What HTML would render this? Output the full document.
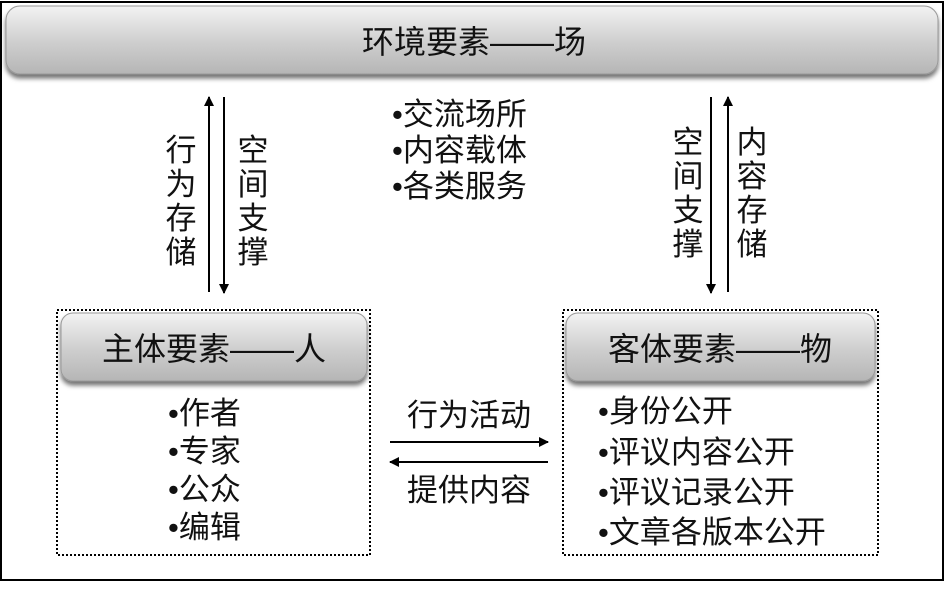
<!DOCTYPE html>
<html><head><meta charset="utf-8"><style>
html,body{margin:0;padding:0;background:#fff;}
svg text{font-family:"Liberation Sans","Noto Sans CJK SC",sans-serif;fill:#111;}
</style></head><body>
<svg width="945" height="584" viewBox="0 0 945 584" xmlns="http://www.w3.org/2000/svg">
<defs>
<linearGradient id="g" x1="0" y1="0" x2="0" y2="1">
<stop offset="0" stop-color="#f2f2f2"/><stop offset="0.5" stop-color="#d0d0d0"/><stop offset="1" stop-color="#b5b5b5"/>
</linearGradient>
<filter id="s" x="-5%" y="-20%" width="110%" height="150%"><feDropShadow dx="0" dy="4" stdDeviation="2.5" flood-color="#000" flood-opacity="0.55"/></filter>
<marker id="a" markerWidth="10" markerHeight="10" refX="9" refY="5" orient="auto" markerUnits="userSpaceOnUse"><path d="M0,0 L10,5 L0,10 z" fill="#000"/></marker>
</defs>
<rect x="1" y="2" width="942" height="578" fill="none" stroke="#000" stroke-width="2"/>
<rect x="6" y="6" width="932" height="68" rx="14" fill="url(#g)" stroke="#999" filter="url(#s)"/>
<text x="474" y="53" font-size="32" text-anchor="middle">环境要素——场</text>

<rect x="57" y="310" width="313" height="245" fill="none" stroke="#000" stroke-width="2" stroke-dasharray="2,2"/>
<rect x="61" y="313" width="306" height="68" rx="12" fill="url(#g)" stroke="#999" filter="url(#s)"/>
<text x="214" y="360" font-size="32" text-anchor="middle">主体要素——人</text>
<g font-size="31"><text x="168" y="424">•作者</text><text x="168" y="462">•专家</text><text x="168" y="500">•公众</text><text x="168" y="538">•编辑</text></g>

<rect x="563" y="310" width="315" height="245" fill="none" stroke="#000" stroke-width="2" stroke-dasharray="2,2"/>
<rect x="566" y="313" width="309" height="68" rx="12" fill="url(#g)" stroke="#999" filter="url(#s)"/>
<text x="720" y="360" font-size="32" text-anchor="middle">客体要素——物</text>
<g font-size="31"><text x="598" y="422">•身份公开</text><text x="598" y="463">•评议内容公开</text><text x="598" y="503">•评议记录公开</text><text x="598" y="543">•文章各版本公开</text></g>

<g font-size="31"><text x="392" y="125">•交流场所</text><text x="392" y="161">•内容载体</text><text x="392" y="197">•各类服务</text></g>

<g stroke="#000" stroke-width="2">
<line x1="209" y1="292" x2="209" y2="97" marker-end="url(#a)"/>
<line x1="224" y1="97" x2="224" y2="293" marker-end="url(#a)"/>
<line x1="711" y1="97" x2="711" y2="293" marker-end="url(#a)"/>
<line x1="728" y1="292" x2="728" y2="97" marker-end="url(#a)"/>
<line x1="390" y1="442" x2="548" y2="442" marker-end="url(#a)"/>
<line x1="548" y1="462" x2="390" y2="462" marker-end="url(#a)"/>
</g>
<g font-size="31" text-anchor="middle">
<text x="469" y="426">行为活动</text><text x="469" y="501">提供内容</text>
</g>
<g font-size="31" text-anchor="middle">
<text x="181" y="161">行</text><text x="181" y="195">为</text><text x="181" y="229">存</text><text x="181" y="263">储</text>
<text x="253" y="161">空</text><text x="253" y="195">间</text><text x="253" y="229">支</text><text x="253" y="263">撑</text>
<text x="688" y="153">空</text><text x="688" y="187">间</text><text x="688" y="221">支</text><text x="688" y="255">撑</text>
<text x="752" y="153">内</text><text x="752" y="187">容</text><text x="752" y="221">存</text><text x="752" y="255">储</text>
</g>
</svg>
</body></html>
